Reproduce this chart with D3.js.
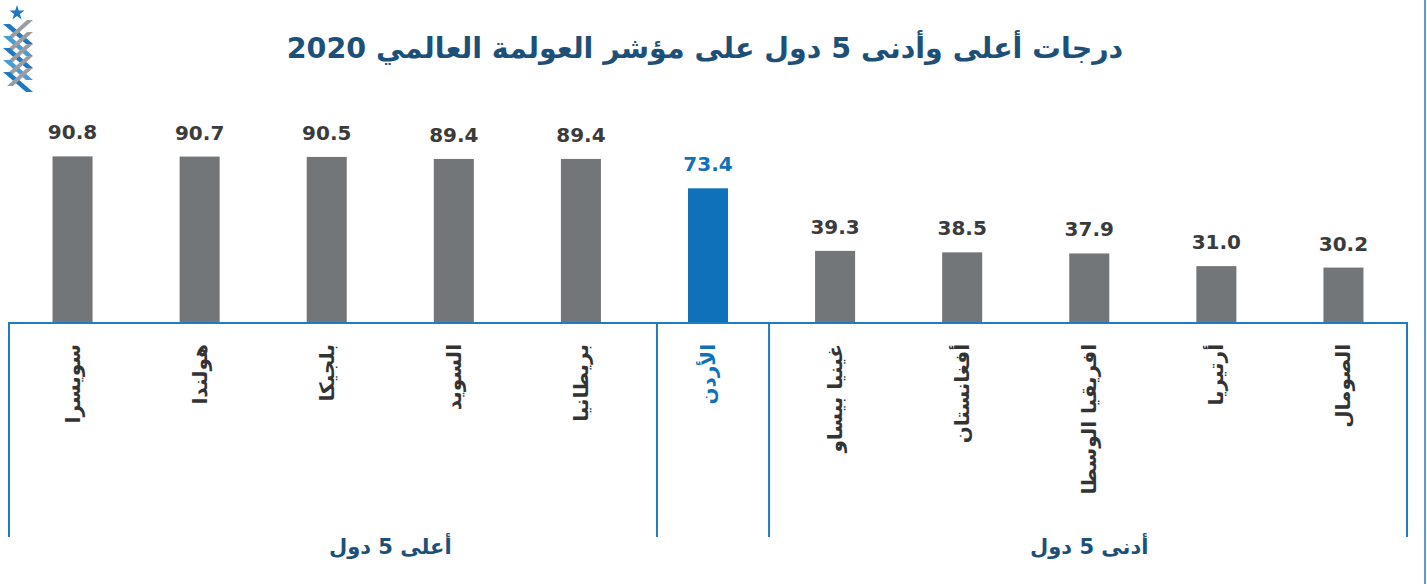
<!DOCTYPE html>
<html><head><meta charset="utf-8">
<script src="https://cdn.jsdelivr.net/npm/d3@7"></script>
<style>
html,body{margin:0;padding:0;background:#fff;}
svg{display:block;font-family:"DejaVu Sans",sans-serif;}
</style></head>
<body>
<svg id="chart" width="1427" height="584"></svg>
<script>
const categories = ["سويسرا","هولندا","بلجيكا","السويد","بريطانيا","الأردن","غينيا بيساو","أفغانستان","افريقيا الوسطا","أرتيريا","الصومال"];
const values = [90.8, 90.7, 90.5, 89.4, 89.4, 73.4, 39.3, 38.5, 37.9, 31.0, 30.2];
const highlight = "الأردن";
const groupLabels = ["أعلى 5 دول","أدنى 5 دول"];
const groupFrom = [0, 6];
const groupTo = [5, 10];
const separatorsAfter = [4, 5];
const title = "درجات أعلى وأدنى 5 دول على مؤشر العولمة العالمي 2020";

const svg = d3.select("#chart");
const W = 1427, H = 584;
const left = 9, right = 1407, base = 323, frameBottom = 537;
const gray = "#737679", blue = "#0e71ba", frameColor = "#1f7bc4", titleColor = "#1d5079";

const x = d3.scaleBand().domain(categories).range([left, right]).paddingInner(0.685).paddingOuter(0.3425);
const y = d3.scaleLinear().domain([0, 100]).range([base, 139.5]);

// title
svg.append("text").attr("x", 705).attr("y", 58).attr("text-anchor", "middle")
  .attr("font-size", 28.5).attr("font-weight", "bold").attr("fill", titleColor).text(title);

// logo (decorative)
const logo = svg.append("g").attr("transform", "translate(3,8)");
logo.append("path").attr("d", d3.symbol(d3.symbolStar, 70)()).attr("transform", "translate(14,5)").attr("fill", "#1e78c2");
[0, 1, 2, 3, 4].forEach(i => {
  const y0 = 16 + i * 12;
  logo.append("path").attr("d", `M0,${y0} L7,${y0} L30,${y0 + 20} L23,${y0 + 20} Z`).attr("fill", i % 2 ? "#4a9ad6" : "#1e78c2");
  logo.append("path").attr("d", `M30,${y0 - 4} L24,${y0 - 4} L4,${y0 + 14} L10,${y0 + 14} Z`).attr("fill", "#9a9da1");
});

// bars
svg.append("g").selectAll("rect").data(categories).join("rect")
  .attr("x", d => x(d)).attr("width", x.bandwidth())
  .attr("y", (d, i) => y(values[i])).attr("height", (d, i) => base - y(values[i]))
  .attr("fill", d => d === highlight ? blue : gray);

// value labels
svg.append("g").selectAll("text").data(categories).join("text")
  .attr("x", d => x(d) + x.bandwidth() / 2)
  .attr("y", (d, i) => y(values[i]) - 17)
  .attr("text-anchor", "middle").attr("font-size", 20).attr("font-weight", "bold")
  .attr("fill", d => d === highlight ? blue : "#3b3b3b")
  .text((d, i) => d3.format(".1f")(values[i]));

// frame
const frame = svg.append("g").attr("stroke", frameColor).attr("stroke-width", 2).attr("fill", "none");
frame.append("path").attr("d", `M${left},${frameBottom} V${base} H${right} V${frameBottom}`);
const sepOffsets = [12.5, -2.5];
separatorsAfter.forEach((idx, k) => {
  const sx = left + x.step() * (idx + 1) + sepOffsets[k];
  frame.append("line").attr("x1", sx).attr("x2", sx).attr("y1", base).attr("y2", frameBottom);
});
// right-edge rule
svg.append("line").attr("x1", 1425).attr("x2", 1425).attr("y1", 0).attr("y2", H)
  .attr("stroke", frameColor).attr("stroke-width", 1.5);

// category labels (rotated)
svg.append("g").selectAll("text").data(categories).join("text")
  .attr("transform", d => `translate(${x(d) + x.bandwidth() / 2},344) rotate(-90)`)
  .attr("text-anchor", "end").attr("dy", "0.35em")
  .attr("font-size", 20).attr("font-weight", "bold")
  .attr("fill", d => d === highlight ? blue : "#333")
  .text(d => d);

// group labels
groupLabels.forEach((g, k) => {
  const cx = (x(categories[groupFrom[k]]) + x(categories[groupTo[k]])) / 2 + x.bandwidth() / 2;
  svg.append("text").attr("x", cx).attr("y", 554).attr("text-anchor", "middle")
    .attr("font-size", 21).attr("font-weight", "bold").attr("fill", titleColor).text(g);
});
</script>
</body></html>
